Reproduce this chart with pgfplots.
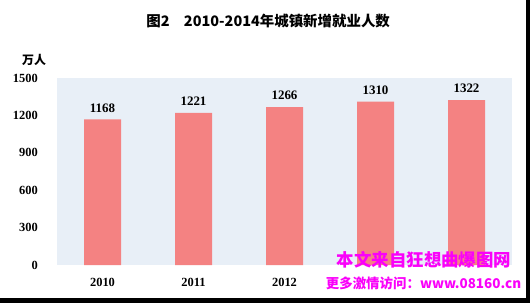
\documentclass[border=0pt]{standalone}
\usepackage{pgfplots}
\pgfplotsset{compat=1.18}
\usepackage{fontspec}
\setmainfont{Liberation Serif}
\newfontfamily\cjk{Noto Sans CJK SC}
\definecolor{bgblue}{RGB}{232,239,247}
\definecolor{barpink}{RGB}{244,130,130}
\definecolor{wmark}{RGB}{250,0,250}
\begin{document}
\begin{tikzpicture}[x=1bp,y=1bp]
\fill[white] (0,0) rectangle (530,303);
\begin{axis}[
  at={(57bp,38bp)}, anchor=south west,
  width=455bp, height=187bp, scale only axis,
  ymin=0, ymax=1500, xmin=-0.5, xmax=4.5,
  ytick={0,300,...,1500},
  xtick={0,1,2,3,4},
  xticklabels={2010,2011,2012,{},{}},
  axis background/.style={fill=bgblue},
  axis line style={draw=none},
  major tick length=0pt,
  /pgf/number format/assume math mode=true,
  /pgf/number format/set thousands separator={},
  tick label style={font=\bfseries\fontsize{12.5}{12.5}\selectfont, inner sep=0pt},
  yticklabel style={anchor=east},
  yticklabel shift=19bp,
  xticklabel shift=13bp,
  title={图2\hspace{1em}2010-2014年城镇新增就业人数},
  title style={at={(axis description cs:0.464,1.273)}, anchor=center, font=\cjk\bfseries\fontsize{14.5}{14.5}\selectfont},
  ylabel={万人},
  every axis y label/.style={at={(axis description cs:-0.0505,1.096)}, anchor=center, font=\cjk\bfseries\fontsize{12}{12}\selectfont},
]
\addplot[ybar, bar width=37bp, fill=barpink, draw=none,
  nodes near coords,
  nodes near coords style={font=\bfseries\fontsize{13}{13}\selectfont, inner sep=0pt, anchor=south, yshift=7bp}]
  coordinates {(0,1168) (1,1221) (2,1266) (3,1310) (4,1322)};
\end{axis}
\node[text=wmark, font=\cjk\bfseries\fontsize{17.5}{17.5}\selectfont] at (424,43) {本文来自狂想曲爆图网};
\node[text=wmark, fill=white, inner sep=1bp, font=\cjk\bfseries\fontsize{13.5}{13.5}\selectfont] at (423.5,20) {更多激情访问：www.08160.cn};
\fill[black] (0,0) rectangle (530,5);
\fill[black] (526,0) rectangle (530,303);
\end{tikzpicture}
\end{document}
